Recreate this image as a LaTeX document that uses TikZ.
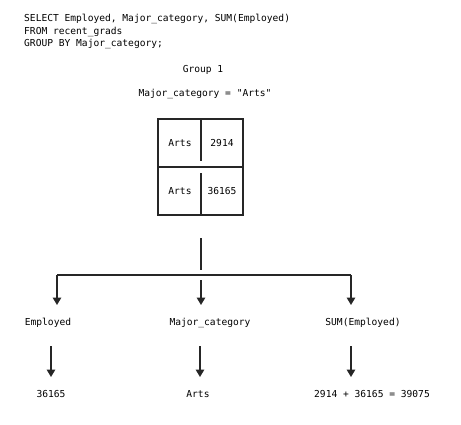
\documentclass[tikz,border=0pt]{standalone}
\usepackage{fontspec}
\setmonofont{DejaVu Sans Mono}
\usetikzlibrary{arrows.meta}
\begin{document}
\begin{tikzpicture}[
        x=1pt, y=-1pt,
        txt/.style={inner sep=0pt, font=\ttfamily\fontsize{9.6}{12.5}\selectfont},
        cell/.style={txt, minimum width=43pt, minimum height=48pt},
        ln/.style={line width=1.6pt, draw=black!85},
        arr/.style={ln, -{Triangle[width=8.5pt,length=7.5pt]}}
    ]
        \useasboundingbox (0,0) rectangle (461,424);

        % Query text
        \node[txt, anchor=north west, align=left] (query) at (24,14) {SELECT Employed, Major\_category, SUM(Employed)\\FROM recent\_grads\\GROUP BY Major\_category;};
        \node[txt] (group) at (203,70) {Group 1};
        \node[txt] (key) at (205,94) {Major\_category = "Arts"};

        % Group table
        \node[cell] (a1) at (180,143) {Arts};
        \node[cell] (b1) at (222,143) {2914};
        \node[cell] (a2) at (180,191) {Arts};
        \node[cell] (b2) at (222,191) {36165};
        \draw[ln] (158,119) rectangle (243,215);
        \draw[ln] (158,167) -- (243,167);
        \draw[ln] (201,119) -- (201,161);
        \draw[ln] (201,173) -- (201,215);

        % Split into result columns
        \coordinate (trunk) at (201,238);
        \coordinate (bar) at (201,275);
        \coordinate (barl) at (57,275);
        \coordinate (barr) at (351,275);
        \draw[ln] (trunk) -- (201,270);
        \draw[ln] (barl) -- (barr);

        % Column names
        \node[txt] (emp) at (48,323) {Employed};
        \node[txt] (cat) at (210,323) {Major\_category};
        \node[txt] (sum) at (363,323) {SUM(Employed)};
        \draw[arr] (barl) -- (57,305);
        \draw[arr] (201,280) -- (201,305);
        \draw[arr] (barr) -- (351,305);

        % Results
        \node[txt] (res1) at (51,394) {36165};
        \node[txt] (res2) at (198,394) {Arts};
        \node[txt] (res3) at (372,394) {2914 + 36165 = 39075};
        \draw[arr] (51,346) -- (51,377);
        \draw[arr] (200,346) -- (200,377);
        \draw[arr] (351,346) -- (351,377);
\end{tikzpicture}
\end{document}
